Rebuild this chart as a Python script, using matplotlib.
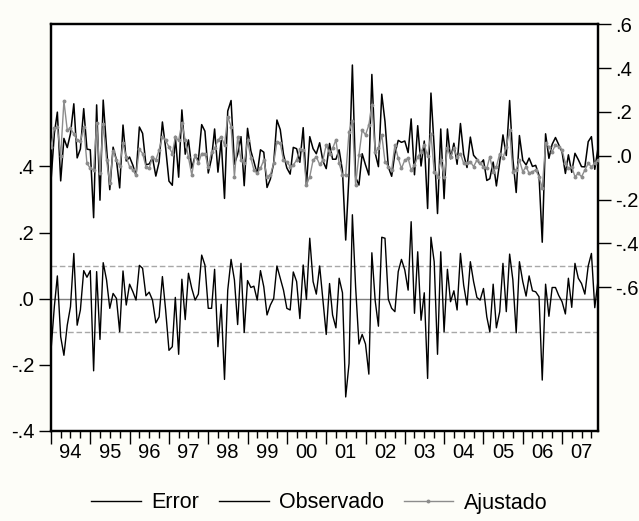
import numpy as np
import pandas as pd
import matplotlib
matplotlib.use('Agg')
import matplotlib.pyplot as plt
import matplotlib.dates as mdates
from matplotlib.lines import Line2D
from matplotlib.ticker import FuncFormatter

plt.rcParams['font.family'] = ['Liberation Sans', 'DejaVu Sans']

start_month = '1994-01'
year_labels = ['94', '95', '96', '97', '98', '99', '00', '01', '02', '03', '04', '05', '06', '07']
years = list(range(1994, 2008))
legend_labels = ['Error', 'Observado', 'Ajustado']

resid = [
    -0.156, -0.024, 0.069, -0.115, -0.171, -0.080, -0.024, 0.137, -0.080, -0.034,
    0.085, 0.065, 0.085, -0.218, 0.082, -0.123, 0.109, 0.057, -0.029, 0.016,
    0.001, -0.100, 0.084, -0.019, 0.044, 0.021, -0.004, 0.101, 0.092, 0.009,
    0.020,
    -0.004, -0.073, -0.055, 0.067, -0.034, -0.156, -0.145, 0.004, -0.168, 0.059,
    -0.063, 0.077, 0.031, -0.004, 0.014, 0.132, 0.102, -0.029, -0.029, 0.089,
    -0.145, -0.017, -0.244, 0.026, 0.119, 0.057, -0.078, 0.107, -0.102, 0.055,
    0.034, 0.038, -0.004, 0.085, 0.036, -0.049, -0.019, 0.001, 0.099, 0.062,
    0.026, -0.029, -0.034, 0.081, 0.052,
    -0.060, 0.102, -0.002, 0.183, 0.052, 0.014, 0.099, -0.004, -0.108, 0.046,
    -0.049, -0.088, 0.062, 0.018, -0.297, -0.196, 0.254, 0.036, -0.137, -0.108,
    -0.137, -0.228, 0.139, -0.006, -0.083, 0.186, 0.183, -0.002, -0.029, -0.039,
    0.082, 0.119, 0.087, 0.026, 0.233, -0.044, 0.142, -0.065, 0.018, -0.241,
    0.186, 0.112, -0.168, 0.142, -0.100, 0.089, -0.009, 0.024, -0.034, 0.137,
    0.041, -0.019, 0.112, 0.052, 0.004, -0.004, 0.031, -0.055, -0.100, 0.044,
    -0.088, -0.039, 0.107, -0.039, 0.135, 0.057, -0.103, 0.112, 0.052, 0.008,
    0.069, 0.024, 0.021, 0.006, -0.246, 0.044, -0.053, 0.034, 0.034,
    0.010,
    -0.009, -0.046, 0.062, -0.026, 0.107, 0.062, 0.046, 0.014, 0.099, 0.137, -0.027, 0.055,
]

fitted = [
    0.04, 0.125, 0.13, 0.0, 0.25, 0.117, 0.125, 0.10, 0.07, 0.065,
    0.13, -0.035, -0.058, -0.065, 0.15, -0.08, 0.145, -0.02, -0.126, 0.023,
    -0.02, -0.047, 0.056, -0.005, -0.05, -0.065, -0.088, 0.03, 0.01, -0.05,
    -0.058, -0.005, -0.02, 0.026, 0.087, 0.07, 0.04, 0.01, 0.084, 0.07,
    0.15, 0.07, -0.005, -0.088, 0.003, -0.035, 0.01, 0.01, -0.05, 0.018,
    0.033, 0.07, 0.087, 0.049, 0.178, 0.133, -0.096, 0.084, -0.02, -0.035,
    0.07, -0.012, -0.065, -0.08, -0.058, -0.02, -0.096, -0.088, -0.035, 0.064,
    0.057, -0.02, -0.027, -0.05, -0.043, -0.02, 0.03, 0.026, -0.134, -0.096,
    -0.02, -0.005, -0.04, -0.02, 0.049, 0.01, 0.033, 0.072, -0.035, -0.088,
    -0.088, 0.11, 0.16, -0.134, 0.003, 0.117, 0.095, 0.14, 0.232, 0.018,
    0.033, 0.095, -0.027, -0.05, -0.065, 0.049, -0.012, -0.058, -0.02, -0.012,
    -0.065, -0.043, -0.005, 0.018, 0.049, 0.0, 0.1, -0.073, -0.096, -0.02,
    -0.096, 0.033, -0.005, 0.033, -0.005, 0.01, -0.035, -0.035, -0.027, -0.05,
    -0.02, -0.035, -0.05, -0.058, -0.005, -0.073, -0.05, 0.01, -0.012, 0.04,
    0.117, -0.073, -0.065, -0.02, -0.073, -0.05, -0.08, -0.073, -0.065, -0.096,
    -0.149, 0.056, 0.041, 0.018, 0.049, 0.041, 0.026, -0.035, -0.058, -0.05,
    -0.096, -0.08, -0.096, -0.065, -0.035, -0.05, -0.035, -0.02,
]

actual = [
    -0.116, 0.101, 0.199, -0.115, 0.079, 0.037, 0.101, 0.237, -0.010, 0.031,
    0.215, 0.030, 0.027, -0.283, 0.232, -0.203, 0.254, 0.037, -0.155, 0.039,
    -0.019, -0.147, 0.140, -0.024, -0.006, -0.044, -0.092, 0.131, 0.102, -0.041,
    -0.038, -0.009, -0.093, -0.029, 0.154, 0.036, -0.116, -0.135, 0.088, -0.098,
    0.209, 0.007, 0.072, -0.057, -0.001, -0.021, 0.142, 0.112, -0.079, -0.011,
    0.122, -0.075, 0.070, -0.195, 0.204, 0.252, -0.039, 0.006, 0.087, -0.137,
    0.125, 0.022, -0.027, -0.084, 0.027, 0.016, -0.145, -0.107, -0.034, 0.163,
    0.119, 0.006, -0.056, -0.084, 0.038, 0.032, -0.030, 0.128, -0.136, 0.087,
    0.032, 0.009, 0.059, -0.024, -0.059, 0.056, -0.016, -0.016, 0.027, -0.070,
    -0.385, -0.086, 0.414, -0.098, -0.134, 0.009, -0.042, -0.088, 0.371, 0.012,
    -0.050, 0.281, 0.156, -0.052, -0.094, 0.010, 0.070, 0.061, 0.067, 0.014,
    0.168, -0.087, 0.137, -0.047, 0.067, -0.241, 0.286, 0.039, -0.264, 0.122,
    -0.196, 0.122, -0.014, 0.057, -0.039, 0.147, 0.006, -0.054, 0.085, 0.002,
    -0.016, -0.039, -0.019, -0.113, -0.105, -0.029, -0.138, -0.029, 0.095, 0.001,
    0.252, -0.016, -0.168, 0.092, -0.021, -0.042, -0.011, -0.049, -0.044, -0.090,
    -0.395, 0.100, -0.012, 0.052, 0.083, 0.051, 0.017, -0.081, 0.004, -0.076,
    0.011, -0.018, -0.050, -0.051, 0.064, 0.087, -0.062, 0.035,
]

dates = pd.date_range(start_month, periods=len(resid), freq='MS')
xd = mdates.date2num(dates.to_pydatetime())

fig = plt.figure(figsize=(6.39, 5.21), dpi=100, facecolor='#fdfdf8')
ax = fig.add_axes([51 / 639, 90 / 521, 547 / 639, 406.7 / 521])
ax.set_facecolor('white')
ax2 = ax.twinx()

ax.axhline(0.0, color='#7f7f7f', lw=1.0, zorder=1)
ax.axhline(0.1, color='#a8a8a8', lw=1.0, ls=(0, (4, 2)), zorder=1)
ax.axhline(-0.1, color='#a8a8a8', lw=1.0, ls=(0, (4, 2)), zorder=1)
ax.plot(xd, resid, color='black', lw=1.0, zorder=2)

ax2.plot(xd, actual, color='black', lw=1.1, zorder=3)
ax2.plot(xd, fitted, color='#8c8c8c', lw=1.0, marker='o', ms=1.8,
         mfc='#8c8c8c', mec='#8c8c8c', zorder=4)

ax.set_xlim(xd[0], xd[-1])
ax.set_ylim(-0.4, 0.83)
ax2.set_ylim(-1.257, 0.6)

fmt = FuncFormatter(lambda v, p: ('%.1f' % v).replace('0.', '.'))
ax.set_yticks([-0.4, -0.2, 0.0, 0.2, 0.4])
ax.yaxis.set_major_formatter(fmt)
ax2.set_yticks([-0.6, -0.4, -0.2, 0.0, 0.2, 0.4, 0.6])
ax2.yaxis.set_major_formatter(fmt)

year_starts = mdates.date2num([pd.Timestamp(f'{y}-01-01').to_pydatetime() for y in years])
quarters = mdates.date2num([pd.Timestamp(f'{y}-{m:02d}-01').to_pydatetime()
                            for y in years for m in (4, 7, 10)])
mids = mdates.date2num([pd.Timestamp(f'{y}-07-01').to_pydatetime() for y in years])
ax.set_xticks(year_starts)
ax.set_xticks(quarters, minor=True)
ax.tick_params(axis='x', which='major', length=9, width=1, direction='out', labelbottom=False)
ax.tick_params(axis='x', which='minor', length=5, width=1, direction='out')
sec = ax.secondary_xaxis('bottom')
sec.set_xticks(mids)
sec.set_xticklabels(year_labels)
sec.tick_params(length=0, pad=9, labelsize=14.5)
sec.spines['bottom'].set_visible(False)

ax.tick_params(axis='y', length=9, width=1, direction='out', labelsize=14.5, pad=3)
ax2.tick_params(axis='y', length=9, width=1, direction='out', labelsize=14.5, pad=3)

for a in (ax, ax2):
    for s in a.spines.values():
        s.set_linewidth(1.6)

handles = [Line2D([], [], color='black', lw=1.0),
           Line2D([], [], color='black', lw=1.0),
           Line2D([], [], color='#8c8c8c', lw=1.0, marker='o', ms=1.8)]
fig.legend(handles, legend_labels, loc='center',
           bbox_to_anchor=(0.5, 18 / 521), ncol=3, frameon=False, fontsize=15.5,
           handlelength=2.3, handletextpad=0.5, columnspacing=0.9)

fig.savefig('out.png', dpi=100, facecolor=fig.get_facecolor())
